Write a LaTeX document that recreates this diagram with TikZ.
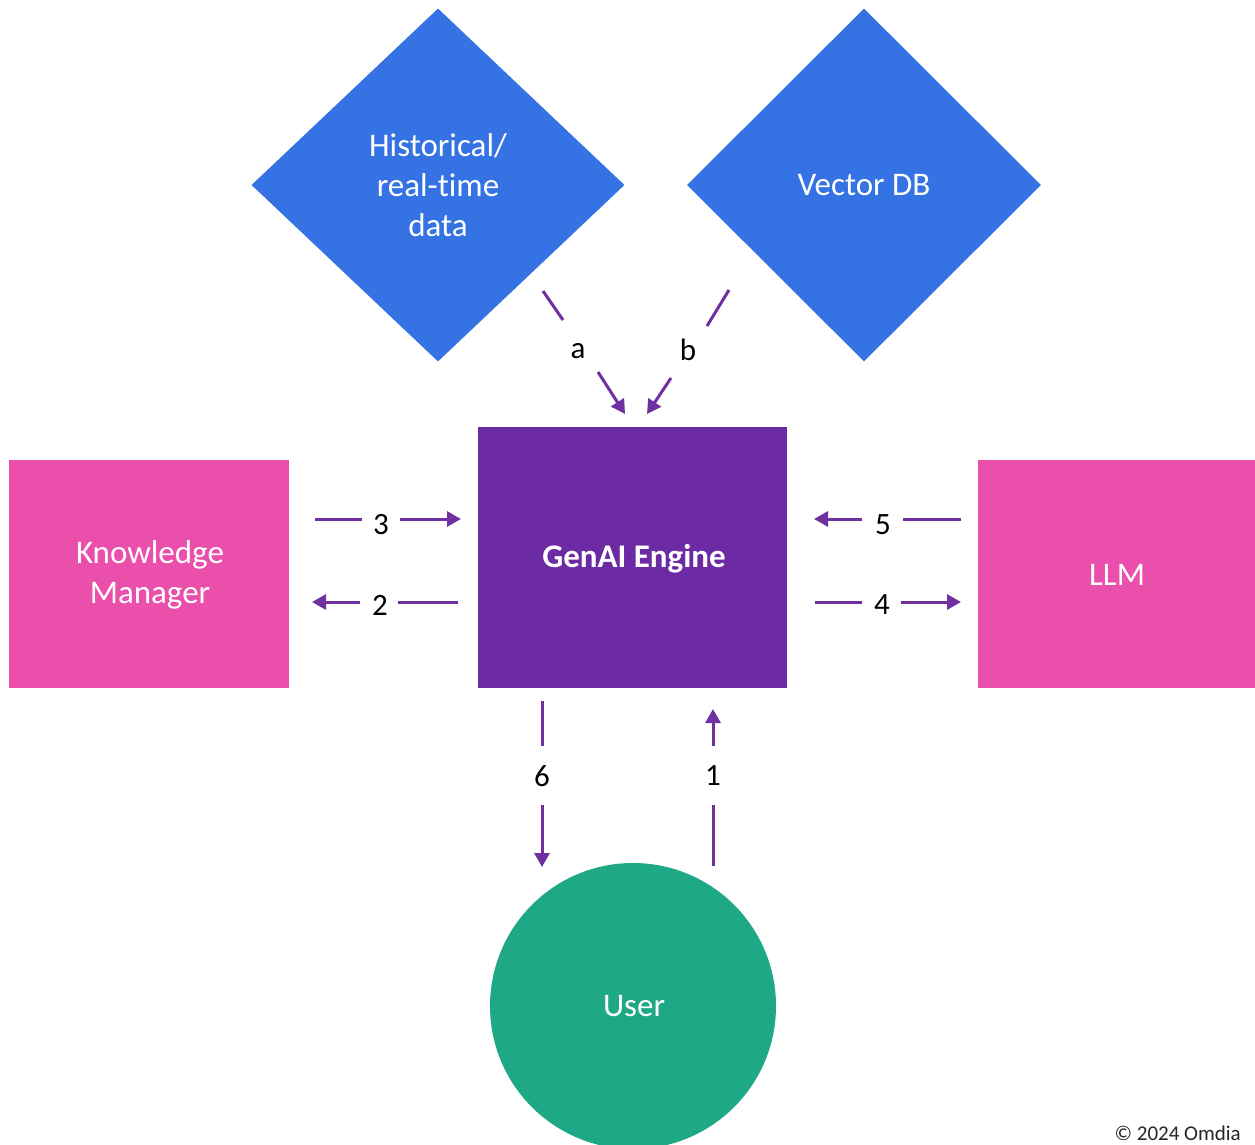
\documentclass[tikz,border=0pt]{standalone}
\usepackage{fontspec}
\setmainfont{Carlito}[Ligatures=NoCommon]
\usetikzlibrary{shapes.geometric,arrows.meta}
\definecolor{dblue}{RGB}{53,114,227}
\definecolor{epurple}{RGB}{108,43,164}
\definecolor{apurple}{RGB}{112,48,160}
\definecolor{kpink}{RGB}{235,79,172}
\definecolor{ugreen}{RGB}{31,168,134}
\tikzset{
  shapetext/.style={text=white,font=\fontsize{33}{40}\selectfont,align=center,inner sep=0pt},
  dia/.style={diamond,fill=dblue,shapetext,inner sep=0pt},
  lbl/.style={font=\fontsize{31}{36}\selectfont,text=black,inner sep=0pt},
  conn/.style={draw=apurple,line width=3pt},
  conna/.style={conn,-{Triangle[length=14pt,width=15pt]}}
}
\begin{document}
\begin{tikzpicture}[x=1pt,y=-1pt]
\useasboundingbox[fill=white] (0,0) rectangle (1255,1145);
% shapes
\node[dia,minimum width=373pt,minimum height=353pt] (hist) at (438,185) {Historical/\\real-time\\data};
\node[dia,minimum width=354pt,minimum height=353pt] (vdb) at (864,185) {Vector DB};
\fill[epurple] (478,427) rectangle (787,688);
\node[shapetext,font=\fontsize{33}{40}\selectfont\bfseries] (eng) at (634,559) {GenAI Engine};
\fill[kpink] (9,460) rectangle (289,688);
\node[shapetext] (km) at (150,575) {Knowledge\\Manager};
\fill[kpink] (978,460) rectangle (1255,688);
\node[shapetext] (llm) at (1117,575) {LLM};
\node[circle,fill=ugreen,minimum size=286pt,inner sep=0pt] (user) at (633,1006) {};
\node[shapetext] (usert) at (634,1006) {User};
% coordinates for connectors
\coordinate (a1) at (543,291); \coordinate (a2) at (563,320);
\coordinate (a3) at (598,372); \coordinate (a4) at (625,414);
\coordinate (b1) at (729,290); \coordinate (b2) at (707,326);
\coordinate (b3) at (671,378); \coordinate (b4) at (647,414);
\coordinate (t1) at (315,519); \coordinate (t2) at (362,519);
\coordinate (t3) at (400,519); \coordinate (t4) at (461,519);
\coordinate (w1) at (458,602); \coordinate (w2) at (398,602);
\coordinate (w3) at (360,602); \coordinate (w4) at (312,602);
\coordinate (f1) at (961,519); \coordinate (f2) at (903,519);
\coordinate (f3) at (862,519); \coordinate (f4) at (814,519);
\coordinate (r1) at (815,602); \coordinate (r2) at (862,602);
\coordinate (r3) at (901,602); \coordinate (r4) at (961,602);
\coordinate (s1) at (542,701); \coordinate (s2) at (542,746);
\coordinate (s3) at (542,805); \coordinate (s4) at (542,867);
\coordinate (o1) at (713,866); \coordinate (o2) at (713,805);
\coordinate (o3) at (713,746); \coordinate (o4) at (713,709);
% connectors
\draw[conn] (a1) -- (a2); \draw[conna] (a3) -- (a4);
\node[lbl] (la) at (578,351) {a};
\draw[conn] (b1) -- (b2); \draw[conna] (b3) -- (b4);
\node[lbl] (lb) at (688,350) {b};
\draw[conn] (t1) -- (t2); \draw[conna] (t3) -- (t4);
\node[lbl] (l3) at (381,525) {3};
\draw[conn] (w1) -- (w2); \draw[conna] (w3) -- (w4);
\node[lbl] (l2) at (380,605) {2};
\draw[conn] (f1) -- (f2); \draw[conna] (f3) -- (f4);
\node[lbl] (l5) at (883,525) {5};
\draw[conn] (r1) -- (r2); \draw[conna] (r3) -- (r4);
\node[lbl] (l4) at (882,605) {4};
\draw[conn] (s1) -- (s2); \draw[conna] (s3) -- (s4);
\node[lbl] (l6) at (542,776) {6};
\draw[conn] (o1) -- (o2); \draw[conna] (o3) -- (o4);
\node[lbl] (l1) at (713,776) {1};
% copyright
\node[lbl,font=\fontsize{21}{24}\selectfont,anchor=base east,text=black!85] (copy) at (1241,1140) {© 2024 Omdia};
\end{tikzpicture}
\end{document}
